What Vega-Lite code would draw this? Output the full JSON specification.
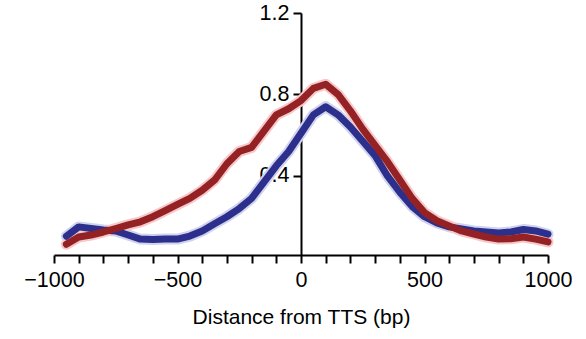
{
  "$schema": "https://vega.github.io/schema/vega-lite/v6.json",
  "autosize": {"type": "none"},
  "width": 494,
  "height": 242,
  "padding": {"left": 54, "top": 13, "right": 38, "bottom": 84},
  "config": {
    "view": {"stroke": null},
    "font": "Liberation Sans",
    "axis": {"grid": false, "domainColor": "black", "tickColor": "black", "labelColor": "black", "titleColor": "black", "domainWidth": 2, "tickWidth": 2, "labelFont": "Liberation Sans", "titleFont": "Liberation Sans"}
  },
  "data": {"values": [
    {"x": -950, "s": "blue", "y": 0.104}, {"x": -900, "s": "blue", "y": 0.15}, {"x": -850, "s": "blue", "y": 0.142}, {"x": -800, "s": "blue", "y": 0.135},
    {"x": -750, "s": "blue", "y": 0.13}, {"x": -700, "s": "blue", "y": 0.11}, {"x": -650, "s": "blue", "y": 0.09}, {"x": -600, "s": "blue", "y": 0.088},
    {"x": -550, "s": "blue", "y": 0.09}, {"x": -500, "s": "blue", "y": 0.09}, {"x": -450, "s": "blue", "y": 0.105}, {"x": -400, "s": "blue", "y": 0.13},
    {"x": -350, "s": "blue", "y": 0.165}, {"x": -300, "s": "blue", "y": 0.2}, {"x": -250, "s": "blue", "y": 0.24}, {"x": -200, "s": "blue", "y": 0.29},
    {"x": -150, "s": "blue", "y": 0.37}, {"x": -100, "s": "blue", "y": 0.45}, {"x": -50, "s": "blue", "y": 0.52}, {"x": 0, "s": "blue", "y": 0.61},
    {"x": 50, "s": "blue", "y": 0.70}, {"x": 100, "s": "blue", "y": 0.74}, {"x": 150, "s": "blue", "y": 0.70}, {"x": 200, "s": "blue", "y": 0.64},
    {"x": 250, "s": "blue", "y": 0.57}, {"x": 300, "s": "blue", "y": 0.50}, {"x": 350, "s": "blue", "y": 0.40}, {"x": 400, "s": "blue", "y": 0.32},
    {"x": 450, "s": "blue", "y": 0.25}, {"x": 500, "s": "blue", "y": 0.2}, {"x": 550, "s": "blue", "y": 0.17}, {"x": 600, "s": "blue", "y": 0.15},
    {"x": 650, "s": "blue", "y": 0.14}, {"x": 700, "s": "blue", "y": 0.13}, {"x": 750, "s": "blue", "y": 0.125}, {"x": 800, "s": "blue", "y": 0.12},
    {"x": 850, "s": "blue", "y": 0.125}, {"x": 900, "s": "blue", "y": 0.137}, {"x": 950, "s": "blue", "y": 0.13}, {"x": 1000, "s": "blue", "y": 0.114},
    {"x": -950, "s": "red", "y": 0.065}, {"x": -900, "s": "red", "y": 0.10}, {"x": -850, "s": "red", "y": 0.11}, {"x": -800, "s": "red", "y": 0.125},
    {"x": -750, "s": "red", "y": 0.142}, {"x": -700, "s": "red", "y": 0.16}, {"x": -650, "s": "red", "y": 0.175}, {"x": -600, "s": "red", "y": 0.2},
    {"x": -550, "s": "red", "y": 0.23}, {"x": -500, "s": "red", "y": 0.26}, {"x": -450, "s": "red", "y": 0.29}, {"x": -400, "s": "red", "y": 0.33},
    {"x": -350, "s": "red", "y": 0.38}, {"x": -300, "s": "red", "y": 0.46}, {"x": -250, "s": "red", "y": 0.52}, {"x": -200, "s": "red", "y": 0.54},
    {"x": -150, "s": "red", "y": 0.62}, {"x": -100, "s": "red", "y": 0.70}, {"x": -50, "s": "red", "y": 0.73}, {"x": 0, "s": "red", "y": 0.77},
    {"x": 50, "s": "red", "y": 0.83}, {"x": 100, "s": "red", "y": 0.85}, {"x": 150, "s": "red", "y": 0.80}, {"x": 200, "s": "red", "y": 0.72},
    {"x": 250, "s": "red", "y": 0.63}, {"x": 300, "s": "red", "y": 0.55}, {"x": 350, "s": "red", "y": 0.47}, {"x": 400, "s": "red", "y": 0.38},
    {"x": 450, "s": "red", "y": 0.29}, {"x": 500, "s": "red", "y": 0.22}, {"x": 550, "s": "red", "y": 0.18}, {"x": 600, "s": "red", "y": 0.155},
    {"x": 650, "s": "red", "y": 0.13}, {"x": 700, "s": "red", "y": 0.115}, {"x": 750, "s": "red", "y": 0.10}, {"x": 800, "s": "red", "y": 0.09},
    {"x": 850, "s": "red", "y": 0.092}, {"x": 900, "s": "red", "y": 0.10}, {"x": 950, "s": "red", "y": 0.09}, {"x": 1000, "s": "red", "y": 0.076}
  ]},
  "encoding": {
    "x": {"field": "x", "type": "quantitative",
      "scale": {"domain": [-1000, 1000], "nice": false, "zero": false},
      "axis": {"values": [-1000, -900, -800, -700, -600, -500, -400, -300, -200, -100, 0, 100, 200, 300, 400, 500, 600, 700, 800, 900, 1000],
        "format": "d",
        "labelExpr": "datum.value % 500 === 0 ? datum.label : ''",
        "title": "Distance from TTS (bp)", "titleFontSize": 21, "titleFontWeight": "normal", "titlePadding": 16,
        "labelFontSize": 21.5, "tickSize": 8, "labelPadding": 6, "labelFlush": false, "labelOverlap": false}},
    "y": {"field": "y", "type": "quantitative",
      "scale": {"domain": [0.012, 1.2], "nice": false, "zero": false},
      "axis": {"values": [0.4, 0.8, 1.2], "format": ".1f", "title": null, "offset": -247, "labelFontSize": 21.5, "tickSize": 8, "labelPadding": 4}}
  },
  "layer": [
    {"transform": [{"filter": "datum.s === 'blue'"}], "mark": {"type": "line", "color": "#d0d3ee", "strokeWidth": 11, "strokeJoin": "round", "strokeCap": "round"}},
    {"transform": [{"filter": "datum.s === 'red'"}], "mark": {"type": "line", "color": "#f6c8ca", "strokeWidth": 11, "strokeJoin": "round", "strokeCap": "round"}},
    {"transform": [{"filter": "datum.s === 'blue'"}], "mark": {"type": "line", "color": "#2c2f8b", "strokeWidth": 7, "strokeJoin": "round", "strokeCap": "round"}},
    {"transform": [{"filter": "datum.s === 'red'"}], "mark": {"type": "line", "color": "#942224", "strokeWidth": 7, "strokeJoin": "round", "strokeCap": "round"}}
  ]
}
